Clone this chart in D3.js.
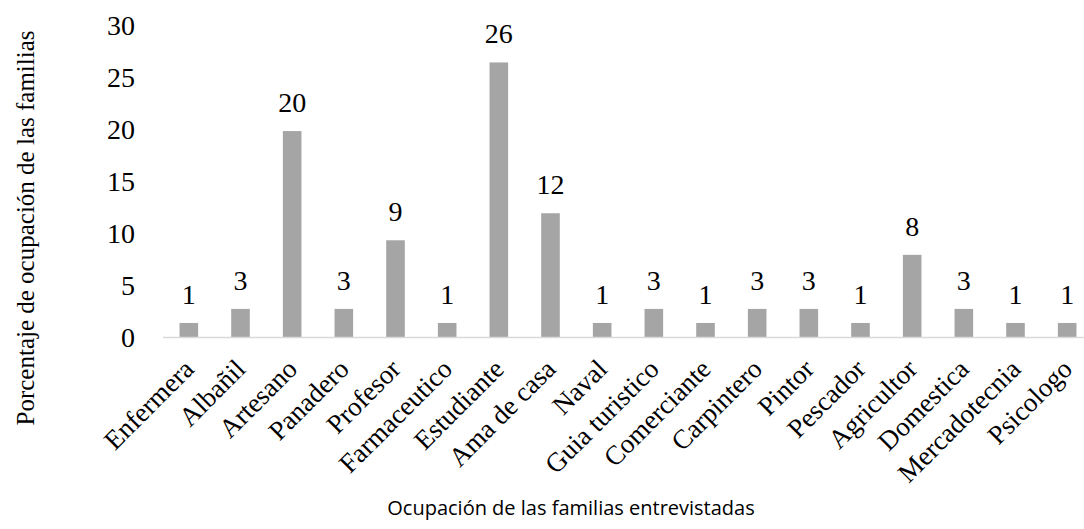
<!DOCTYPE html>
<html>
<head>
<meta charset="utf-8">
<script src="https://cdn.jsdelivr.net/npm/d3@7"></script>
<style>
  body { margin: 0; background: #fff; }
  text { fill: #000; }
</style>
</head>
<body>
<script>
// Data
var ocupaciones = ["Enfermera", "Albañil", "Artesano", "Panadero", "Profesor", "Farmaceutico",
  "Estudiante", "Ama de casa", "Naval", "Guia turistico", "Comerciante", "Carpintero",
  "Pintor", "Pescador", "Agricultor", "Domestica", "Mercadotecnia", "Psicologo"];
var porcentajes = [1.35, 2.7, 19.8, 2.7, 9.3, 1.35, 26.4, 11.9, 1.35, 2.7, 1.35, 2.7,
  2.7, 1.35, 7.9, 2.7, 1.35, 1.35];
var etiquetas = ["1", "3", "20", "3", "9", "1", "26", "12", "1", "3", "1", "3",
  "3", "1", "8", "3", "1", "1"];
var yTicks = [0, 5, 10, 15, 20, 25, 30];

// Size
var width = 1084, height = 529;
var serif = "'Liberation Serif', 'Times New Roman', serif";

var svg = d3.select("body").append("svg")
    .attr("width", width)
    .attr("height", height);

// Scales
var x = d3.scaleBand()
    .domain(ocupaciones)
    .range([163, 1093])
    .paddingInner(0.64)
    .paddingOuter(0.32);

var y = d3.scaleLinear()
    .domain([0, 30])
    .range([337, 25]);

// Y tick labels (no axis line)
svg.append("g")
    .selectAll("text")
    .data(yTicks)
    .enter().append("text")
    .attr("x", 135)
    .attr("y", function(d) { return y(d); })
    .attr("dy", "0.35em")
    .attr("text-anchor", "end")
    .style("font-family", serif)
    .style("font-size", "28px")
    .text(function(d) { return d; });

// Bars
svg.append("g")
    .selectAll("rect")
    .data(porcentajes)
    .enter().append("rect")
    .attr("x", function(d, i) { return x(ocupaciones[i]); })
    .attr("y", function(d) { return y(d); })
    .attr("width", x.bandwidth())
    .attr("height", function(d) { return y(0) - y(d); })
    .attr("fill", "#a5a5a5");

// Base line
svg.append("line")
    .attr("x1", 163).attr("x2", 1093)
    .attr("y1", y(0) + 0.5).attr("y2", y(0) + 0.5)
    .attr("stroke", "#d9d9d9")
    .attr("stroke-width", 1.5);

// Value labels
svg.append("g")
    .selectAll("text")
    .data(porcentajes)
    .enter().append("text")
    .attr("x", function(d, i) { return x(ocupaciones[i]) + x.bandwidth() / 2; })
    .attr("y", function(d) { return y(d) - 19; })
    .attr("text-anchor", "middle")
    .style("font-family", serif)
    .style("font-size", "28px")
    .text(function(d, i) { return etiquetas[i]; });

// Category labels, rotated
svg.append("g")
    .selectAll("text")
    .data(ocupaciones)
    .enter().append("text")
    .attr("transform", function(d) {
      return "translate(" + (x(d) + x.bandwidth() / 2) + "," + 364 + ") rotate(-45)";
    })
    .attr("text-anchor", "end")
    .attr("dy", "0.35em")
    .style("font-family", serif)
    .style("font-size", "27px")
    .text(function(d) { return d; });

// Axis titles
svg.append("text")
    .attr("transform", "translate(25,228) rotate(-90)")
    .attr("text-anchor", "middle")
    .attr("dy", "0.35em")
    .style("font-family", serif)
    .style("font-size", "25px")
    .text("Porcentaje de ocupación de las familias");

svg.append("text")
    .attr("x", 571)
    .attr("y", 515)
    .attr("text-anchor", "middle")
    .style("font-family", "'Open Sans', 'Noto Sans', sans-serif")
    .style("font-size", "20px")
    .text("Ocupación de las familias entrevistadas");
</script>
</body>
</html>
